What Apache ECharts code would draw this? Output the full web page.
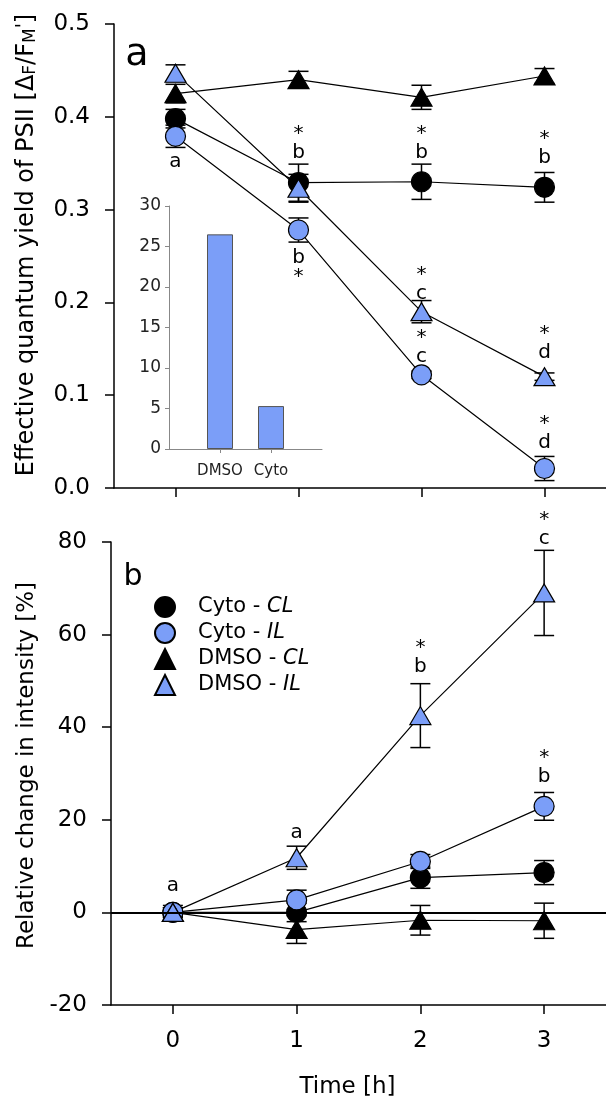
<!DOCTYPE html>
<html>
<head>
<meta charset="utf-8">
<script src="https://cdn.jsdelivr.net/npm/echarts@6/dist/echarts.min.js"></script>
<style>
  html, body { margin: 0; padding: 0; background: #fff; }
  #chart { width: 606px; height: 1106px; }
</style>
</head>
<body>
<div id="chart"></div>
<script>
// time points [h]
const time = [0, 1, 2, 3];

// panel a: effective quantum yield of PSII
const yieldCytoCL = [0.398, 0.329, 0.330, 0.324];
const yieldCytoCLErr = [0.010, 0.020, 0.019, 0.016];
const yieldCytoIL = [0.379, 0.278, 0.122, 0.021];
const yieldCytoILErr = [0.012, 0.013, 0.004, 0.013];
const yieldDmsoCL = [0.425, 0.440, 0.421, 0.444];
const yieldDmsoCLErr = [0.010, 0.009, 0.013, 0.008];
const yieldDmsoIL = [0.447, 0.323, 0.190, 0.120];
const yieldDmsoILErr = [0.009, 0.015, 0.012, 0.004];

// panel b: relative change in intensity [%]
const intCytoCL = [0, 0, 7.5, 8.6];
const intCytoCLErr = [1, 2, 2.3, 2.6];
const intCytoIL = [0, 2.7, 11.0, 22.9];
const intCytoILErr = [1, 2.1, 1.5, 3.0];
const intDmsoCL = [0, -3.7, -1.7, -1.8];
const intDmsoCLErr = [1, 3.0, 3.2, 3.8];
const intDmsoIL = [0, 11.8, 42.5, 69.0];
const intDmsoILErr = [1.5, 2.5, 6.9, 9.2];

// inset bar chart
const insetCats = ['', 'DMSO', 'Cyto', ''];
const insetValues = [null, 26.5, 5.3, null];

// significance letters [time, y, text]
const lettersA = [
  [0, 0.351, 'a'],
  [1, 0.371, '*\nb'],
  [1, 0.238, 'b\n*'],
  [2, 0.371, '*\nb'],
  [3, 0.366, '*\nb'],
  [2, 0.220, '*\nc'],
  [2, 0.152, '*\nc'],
  [3, 0.156, '*\nd'],
  [3, 0.059, '*\nd']
];
const lettersB = [
  [0, 5.8, 'a'],
  [1, 17.2, 'a'],
  [2, 55.1, '*\nb'],
  [3, 82.7, '*\nc'],
  [3, 31.3, '*\nb']
];

const timeTicks = [0, 1, 2, 3];

const BLUE = '#7b9ef8';
const FONT = 'DejaVu Sans';

const seriesDefs = [
  { name: 'Cyto - CL', symbol: 'circle', size: 20, color: '#000', a: yieldCytoCL, aErr: yieldCytoCLErr, b: intCytoCL, bErr: intCytoCLErr },
  { name: 'Cyto - IL', symbol: 'circle', size: 20, color: BLUE, a: yieldCytoIL, aErr: yieldCytoILErr, b: intCytoIL, bErr: intCytoILErr },
  { name: 'DMSO - CL', symbol: 'triangle', size: [21, 18], color: '#000', a: yieldDmsoCL, aErr: yieldDmsoCLErr, b: intDmsoCL, bErr: intDmsoCLErr },
  { name: 'DMSO - IL', symbol: 'triangle', size: [21, 18], color: BLUE, a: yieldDmsoIL, aErr: yieldDmsoILErr, b: intDmsoIL, bErr: intDmsoILErr }
];

function errorBars(gridIdx, vals, errs) {
  return {
    type: 'custom',
    xAxisIndex: gridIdx,
    yAxisIndex: gridIdx,
    silent: true,
    z: 1,
    data: time.map((t, i) => [t, vals[i] - errs[i], vals[i] + errs[i]]),
    renderItem: function (params, api) {
      const lo = api.coord([api.value(0), api.value(1)]);
      const hi = api.coord([api.value(0), api.value(2)]);
      const w = 10;
      const st = { stroke: '#000', lineWidth: 1.5 };
      return {
        type: 'group',
        children: [
          { type: 'line', shape: { x1: lo[0], y1: lo[1], x2: hi[0], y2: hi[1] }, style: st },
          { type: 'line', shape: { x1: lo[0] - w, y1: lo[1], x2: lo[0] + w, y2: lo[1] }, style: st },
          { type: 'line', shape: { x1: hi[0] - w, y1: hi[1], x2: hi[0] + w, y2: hi[1] }, style: st }
        ]
      };
    }
  };
}

function lineSeries(gridIdx, def, vals) {
  return {
    name: def.name,
    type: 'line',
    xAxisIndex: gridIdx,
    yAxisIndex: gridIdx,
    data: time.map((t, i) => [t, vals[i]]),
    symbol: def.symbol,
    symbolSize: def.size,
    z: 3,
    lineStyle: { color: '#000', width: 1.2 },
    itemStyle: { color: def.color, borderColor: '#000', borderWidth: 1.2 },
    emphasis: { disabled: true }
  };
}

// letters drawn as text placed through the axes
function letterSeries(gridIdx, letters) {
  return {
    type: 'custom',
    xAxisIndex: gridIdx,
    yAxisIndex: gridIdx,
    silent: true,
    z: 5,
    data: letters,
    renderItem: function (params, api) {
      const p = api.coord([api.value(0), api.value(1)]);
      return {
        type: 'text',
        x: p[0],
        y: p[1],
        style: {
          text: letters[params.dataIndex][2],
          font: '20px "DejaVu Sans"',
          lineHeight: 19,
          fill: '#000',
          align: 'center',
          verticalAlign: 'middle'
        }
      };
    }
  };
}

const series = [];
seriesDefs.forEach(d => {
  series.push(errorBars(0, d.a, d.aErr));
  series.push(errorBars(1, d.b, d.bErr));
});
seriesDefs.forEach(d => {
  series.push(lineSeries(0, d, d.a));
  series.push(lineSeries(1, d, d.b));
});
// zero line in panel b (on the Cyto - CL series of panel b)
series[9].markLine = {
  silent: true,
  symbol: ['none', 'none'],
  label: { show: false },
  lineStyle: { color: '#000', width: 2, type: 'solid' },
  data: [{ yAxis: 0 }]
};
series.push(letterSeries(0, lettersA));
series.push(letterSeries(1, lettersB));
series.push({
  type: 'bar',
  xAxisIndex: 2,
  yAxisIndex: 2,
  data: insetValues,
  barWidth: 26,
  silent: true,
  itemStyle: { color: BLUE, borderColor: '#555', borderWidth: 1 }
});

const axisLineBlack = { show: true, onZero: false, lineStyle: { color: '#000', width: 1.5 } };

const option = {
  backgroundColor: '#fff',
  animation: false,
  textStyle: { fontFamily: FONT },
  grid: [
    { left: 114, top: 24, width: 495, height: 464 },
    { left: 111, top: 542, width: 496, height: 463 },
    { left: 169, top: 206, width: 153, height: 243 }
  ],
  xAxis: [
    {
      type: 'value', gridIndex: 0, min: -0.5, max: 3.5,
      axisLine: axisLineBlack,
      axisTick: { show: true, length: 9, customValues: timeTicks, lineStyle: { color: '#000', width: 1.5 } },
      axisLabel: { show: false },
      splitLine: { show: false }
    },
    {
      type: 'value', gridIndex: 1, min: -0.5, max: 3.5,
      axisLine: axisLineBlack,
      axisTick: { show: true, length: 9, customValues: timeTicks, lineStyle: { color: '#000', width: 1.5 } },
      axisLabel: { customValues: timeTicks, fontSize: 23, color: '#000', margin: 25, fontFamily: FONT },
      splitLine: { show: false },
      name: 'Time [h]',
      nameLocation: 'middle',
      nameGap: 71,
      nameTextStyle: { fontSize: 23, color: '#000', fontFamily: FONT, padding: [0, 22, 0, 0] }
    },
    {
      type: 'category', gridIndex: 2, data: insetCats, boundaryGap: false,
      axisLine: { show: true, onZero: false, lineStyle: { color: '#888', width: 1 } },
      axisTick: { show: true, length: 4, interval: i => i === 1 || i === 2, lineStyle: { color: '#888' } },
      axisLabel: { fontSize: 15, color: '#222', margin: 15, fontFamily: FONT, interval: 0 },
      splitLine: { show: false }
    }
  ],
  yAxis: [
    {
      type: 'value', gridIndex: 0, min: 0, max: 0.5, interval: 0.1,
      axisLine: axisLineBlack,
      axisTick: { show: true, length: 9, lineStyle: { color: '#000', width: 1.5 } },
      axisLabel: { formatter: v => v.toFixed(1), fontSize: 23, color: '#000', margin: 24, fontFamily: FONT },
      splitLine: { show: false },
      name: 'Effective quantum yield of PSII [\u0394{sub|F}/F{sub|M}{sup|\'}]',
      nameLocation: 'middle',
      nameGap: 75,
      nameMoveOverlap: false,
      nameTextStyle: {
        fontSize: 24, color: '#000', fontFamily: FONT, padding: [0, 0, 0, 22],
        rich: {
          sub: { fontSize: 17, color: '#000', fontFamily: FONT, verticalAlign: 'bottom' },
          sup: { fontSize: 19, color: '#000', fontFamily: FONT, verticalAlign: 'top' }
        }
      }
    },
    {
      type: 'value', gridIndex: 1, min: -20, max: 80, interval: 20,
      axisLine: axisLineBlack,
      axisTick: { show: true, length: 9, lineStyle: { color: '#000', width: 1.5 } },
      axisLabel: { fontSize: 23, color: '#000', margin: 24, fontFamily: FONT },
      splitLine: { show: false },
      name: 'Relative change in intensity [%]',
      nameLocation: 'middle',
      nameGap: 72,
      nameMoveOverlap: false,
      nameTextStyle: { fontSize: 23, color: '#000', fontFamily: FONT, padding: [0, 0, 0, 16] }
    },
    {
      type: 'value', gridIndex: 2, min: 0, max: 30, interval: 5,
      axisLine: { show: true, onZero: false, lineStyle: { color: '#888', width: 1 } },
      axisTick: { show: true, length: 4, lineStyle: { color: '#888' } },
      axisLabel: { fontSize: 17, color: '#222', margin: 8, fontFamily: FONT },
      splitLine: { show: false }
    }
  ],
  legend: {
    orient: 'vertical',
    left: 154,
    top: 596,
    padding: 0,
    itemWidth: 20,
    itemHeight: 20,
    itemGap: 4,
    selectedMode: false,
    data: [
      { name: 'Cyto - CL', icon: 'circle' },
      { name: 'Cyto - IL', icon: 'circle' },
      { name: 'DMSO - CL', icon: 'triangle' },
      { name: 'DMSO - IL', icon: 'triangle' }
    ],
    formatter: name => {
      const parts = name.split(' - ');
      return '{s|}' + parts[0] + ' - {i|' + parts[1] + '}';
    },
    textStyle: {
      fontSize: 21, color: '#000', fontFamily: FONT, lineHeight: 22,
      rich: {
        s: { width: 18 },
        i: { fontSize: 21, fontStyle: 'italic', color: '#000', fontFamily: FONT }
      }
    }
  },
  graphic: [
    { type: 'text', x: 137, y: 55, style: { text: 'a', font: '38px "DejaVu Sans"', fill: '#000', textAlign: 'center', textVerticalAlign: 'middle' } },
    { type: 'text', x: 133, y: 577, style: { text: 'b', font: '30px "DejaVu Sans"', fill: '#000', textAlign: 'center', textVerticalAlign: 'middle' } }
  ],
  series: series
};

const chart = echarts.init(document.getElementById('chart'));
chart.setOption(option);
</script>
</body>
</html>
